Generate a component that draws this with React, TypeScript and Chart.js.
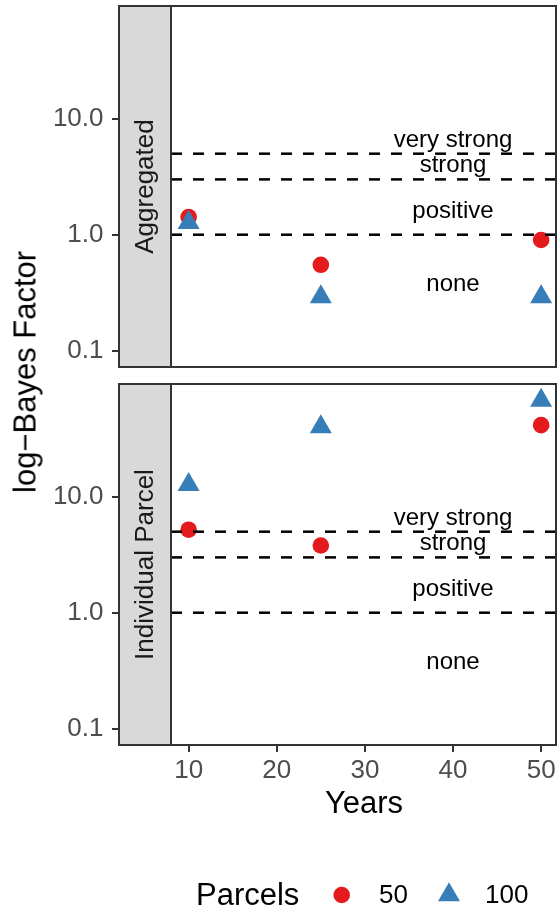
import { useEffect, useRef } from 'react';
import { Chart, registerables } from 'chart.js';

Chart.register(...registerables);

const FONT = '"Liberation Sans", Arial, Helvetica, sans-serif';
const RED = '#E41A1C';
const BLUE = '#377EB8';

// ---- data ----
const years = [10, 25, 50];
const aggregated50 = [1.42, 0.55, 0.9];
const aggregated100 = [1.27, 0.29, 0.29];
const individual50 = [5.2, 3.8, 41.5];
const individual100 = [12.7, 40, 67.9];
const thresholds = [1, 3, 5];
const evidenceLabels = ['very strong', 'strong', 'positive', 'none'];
const evidenceY = [6.5, 4.0, 1.6, 0.37];
const evidenceX = 40;
const yTicks = [0.1, 1, 10];
const xTicks = [10, 20, 30, 40, 50];
const panelNames = ['Aggregated', 'Individual Parcel'];
const parcelLevels = ['50', '100'];

const X_MIN = 8;
const X_MAX = 51.8;
const Y_MIN = 0.0722;
const Y_MAX = 94.0;

const W = 558;
const H = 909;

const zeroPad = (s: any) => {
  s.paddingTop = 0;
  s.paddingBottom = 0;
  s.paddingLeft = 0;
  s.paddingRight = 0;
};

const decorPlugin = {
  id: 'decor',
  beforeDatasetsDraw(chart: any) {
    const { ctx, chartArea } = chart;
    const strip = chart.scales.yStrip;
    ctx.save();
    ctx.fillStyle = '#D9D9D9';
    ctx.fillRect(strip.left, chartArea.top, strip.right - strip.left, chartArea.bottom - chartArea.top);
    ctx.restore();
  },
  afterDatasetsDraw(chart: any, _args: any, opts: any) {
    const { ctx, chartArea } = chart;
    const strip = chart.scales.yStrip;
    const xs = chart.scales.x;
    const ys = chart.scales.y;
    ctx.save();
    ctx.fillStyle = '#000';
    ctx.font = `24px ${FONT}`;
    ctx.textAlign = 'center';
    ctx.textBaseline = 'middle';
    evidenceLabels.forEach((t, i) => {
      ctx.fillText(t, xs.getPixelForValue(evidenceX), ys.getPixelForValue(evidenceY[i]));
    });
    const top = chartArea.top;
    const bottom = chartArea.bottom;
    ctx.strokeStyle = '#333333';
    ctx.lineWidth = 2;
    ctx.strokeRect(strip.left, top, strip.right - strip.left, bottom - top);
    ctx.strokeRect(chartArea.left, top, chartArea.right - 1 - chartArea.left, bottom - top);
    ctx.translate((strip.left + strip.right) / 2, (top + bottom) / 2);
    ctx.rotate(-Math.PI / 2);
    ctx.fillStyle = '#1A1A1A';
    ctx.font = `26px ${FONT}`;
    ctx.fillText(opts.text, 0, 1);
    ctx.restore();
  },
};

const legendPlugin = {
  id: 'parcelLegend',
  afterDraw(chart: any, _args: any, opts: any) {
    if (!opts.show) return;
    const { ctx } = chart;
    const series = chart.data.datasets.filter((d: any) => d.isSeries);
    ctx.save();
    ctx.textBaseline = 'middle';
    ctx.textAlign = 'left';
    ctx.fillStyle = '#000';
    ctx.font = `31px ${FONT}`;
    ctx.fillText('Parcels', 196, 896);
    const keyX = [341.7, 449];
    const textX = [379, 485];
    ctx.font = `26px ${FONT}`;
    series.forEach((d: any, i: number) => {
      const cx = keyX[i];
      const cy = 895;
      const r = d.pointRadius;
      ctx.fillStyle = d.backgroundColor;
      ctx.beginPath();
      if (d.pointStyle === 'triangle') {
        let a = 0;
        ctx.moveTo(cx + Math.sin(a) * r, cy - Math.cos(a) * r);
        a += (2 * Math.PI) / 3;
        ctx.lineTo(cx + Math.sin(a) * r, cy - Math.cos(a) * r);
        a += (2 * Math.PI) / 3;
        ctx.lineTo(cx + Math.sin(a) * r, cy - Math.cos(a) * r);
        ctx.closePath();
      } else {
        ctx.arc(cx, cy, r, 0, Math.PI * 2);
      }
      ctx.fill();
      ctx.fillStyle = '#000';
      ctx.fillText(d.label, textX[i], cy + 1);
    });
    ctx.restore();
  },
};

function makeConfig(panel: number, s50: number[], s100: number[], isBottom: boolean): any {
  const thresholdSets = thresholds.map((t) => ({
    type: 'line',
    label: `threshold ${t}`,
    data: [
      { x: X_MIN, y: t },
      { x: X_MAX, y: t },
    ],
    borderColor: '#000',
    borderWidth: 2.5,
    borderDash: [11, 11],
    pointRadius: 0,
    tension: 0,
    yAxisID: 'y',
    xAxisID: 'x',
    order: 0,
  }));
  const seriesSets = [
    {
      type: 'scatter',
      label: parcelLevels[0],
      isSeries: true,
      data: years.map((x, i) => ({ x, y: s50[i] })),
      pointStyle: 'circle',
      pointRadius: 8.3,
      backgroundColor: RED,
      pointBackgroundColor: RED,
      pointBorderWidth: 0,
      borderWidth: 0,
      yAxisID: 'y',
      xAxisID: 'x',
      order: 2,
    },
    {
      type: 'scatter',
      label: parcelLevels[1],
      isSeries: true,
      data: years.map((x, i) => ({ x, y: s100[i] })),
      pointStyle: 'triangle',
      pointRadius: 12.7,
      backgroundColor: BLUE,
      pointBackgroundColor: BLUE,
      pointBorderWidth: 0,
      borderWidth: 0,
      yAxisID: 'y',
      xAxisID: 'x',
      order: 1,
    },
  ];
  return {
    type: 'scatter',
    data: { datasets: [...thresholdSets, ...seriesSets] },
    plugins: [decorPlugin, legendPlugin],
    options: {
      animation: false,
      responsive: false,
      devicePixelRatio: 1,
      events: [],
      layout: {
        autoPadding: false,
        padding: isBottom
          ? { top: 384, bottom: 86, left: 0, right: 1 }
          : { top: 6, bottom: H - 367, left: 0, right: 1 },
      },
      plugins: {
        legend: { display: false },
        tooltip: { enabled: false },
        decor: { text: panelNames[panel] },
        parcelLegend: { show: isBottom },
      },
      scales: {
        y: {
          type: 'logarithmic',
          position: 'left',
          weight: 1,
          min: Y_MIN,
          max: Y_MAX,
          afterBuildTicks: (s: any) => {
            s.ticks = yTicks.map((v) => ({ value: v }));
          },
          afterFit: (s: any) => {
            s.width = 119;
            zeroPad(s);
          },
          ticks: {
            callback: (v: any) => Number(v).toFixed(1),
            font: { family: FONT, size: 26 },
            color: '#4D4D4D',
            padding: 8.5,
            autoSkip: false,
          },
          grid: {
            drawOnChartArea: false,
            drawTicks: true,
            tickLength: 7,
            color: '#333333',
            lineWidth: 2,
          },
          border: { display: false },
        },
        yStrip: {
          type: 'linear',
          axis: 'y',
          position: 'left',
          weight: 0,
          min: 0,
          max: 1,
          display: true,
          ticks: { display: false },
          grid: { display: false },
          border: { display: false },
          afterFit: (s: any) => {
            s.width = 52;
            zeroPad(s);
          },
        },
        x: {
          type: 'linear',
          position: 'bottom',
          min: X_MIN,
          max: X_MAX,
          display: isBottom,
          afterBuildTicks: (s: any) => {
            s.ticks = xTicks.map((v) => ({ value: v }));
          },
          afterFit: (s: any) => {
            s.height = isBottom ? 78 : 0;
            zeroPad(s);
          },
          ticks: {
            callback: (v: any) => String(v),
            font: { family: FONT, size: 26 },
            color: '#4D4D4D',
            padding: 3,
            maxRotation: 0,
            autoSkip: false,
          },
          grid: {
            drawOnChartArea: false,
            drawTicks: true,
            tickLength: 7,
            color: '#333333',
            lineWidth: 2,
          },
          border: { display: false },
          title: {
            display: true,
            text: 'Years',
            color: '#000',
            font: { family: FONT, size: 31 },
            padding: { top: 0, bottom: 0 },
          },
        },
      },
    },
  };
}

export default function App() {
  const topRef = useRef<HTMLCanvasElement | null>(null);
  const botRef = useRef<HTMLCanvasElement | null>(null);

  useEffect(() => {
    document.body.style.margin = '0';
    Chart.defaults.font.family = FONT;
    const c1 = new Chart(topRef.current as HTMLCanvasElement, makeConfig(0, aggregated50, aggregated100, false));
    const c2 = new Chart(botRef.current as HTMLCanvasElement, makeConfig(1, individual50, individual100, true));
    return () => {
      c1.destroy();
      c2.destroy();
    };
  }, []);

  const canvasStyle: any = { position: 'absolute', left: 0, top: 0, width: W, height: H };

  return (
    <div style={{ position: 'absolute', left: 0, top: 0, width: W, height: H, background: '#fff', overflow: 'hidden' }}>
      <canvas ref={topRef} width={W} height={H} style={canvasStyle} />
      <canvas ref={botRef} width={W} height={H} style={canvasStyle} />
      <div
        style={{
          position: 'absolute',
          left: 25,
          top: 372,
          transform: 'translate(-50%, -50%) rotate(-90deg)',
          fontFamily: FONT,
          fontSize: 31,
          lineHeight: '31px',
          color: '#000',
          whiteSpace: 'nowrap',
        }}
      >
        log−Bayes Factor
      </div>
    </div>
  );
}
